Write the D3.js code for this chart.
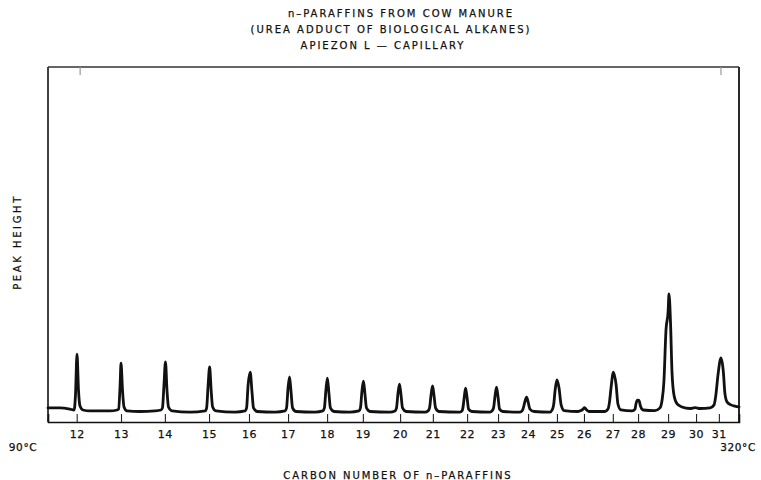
<!DOCTYPE html>
<html>
<head>
<meta charset="utf-8">
<script src="https://cdn.jsdelivr.net/npm/d3@7"></script>
<style>
  html, body { margin: 0; padding: 0; background: #fff; }
  svg { display: block; }
  text { font-family: "DejaVu Sans", sans-serif; fill: #111; stroke: #111; stroke-width: 0.25px; }
</style>
</head>
<body>
<svg id="chart" width="761" height="480"></svg>
<script>
// ---------- data ----------
const titleLines = ["n\u2013PARAFFINS FROM COW MANURE", "(UREA ADDUCT OF BIOLOGICAL ALKANES)", "APIEZON L \u2014 CAPILLARY"];
const yLabel = "PEAK HEIGHT";
const xLabel = "CARBON NUMBER OF  n\u2013PARAFFINS";
const startTempLabel = "90\u00B0C";
const endTempLabel = "320\u00B0C";
const tempRange = [90, 320];

// carbon numbers and the column temperature (°C) of their tick marks
const carbonNumbers = [12, 13, 14, 15, 16, 17, 18, 19, 20, 21, 22, 23, 24, 25, 26, 27, 28, 29, 30, 31];
const carbonTemps   = [99.55, 114.3, 128.9, 143.6, 156.9, 169.9, 182.9, 194.8, 207.2, 218.1, 229.5, 239.8, 249.8, 259.4, 268.4, 278.0, 286.4, 296.4, 305.7, 313.3];

// chromatogram trace: column temperature (°C) and detector response (peak height units)
const traceTemp = [
  90.0, 94.0, 97.3, 98.7,
  99.15, 99.65, 100.15, 100.65, 101.65, 104.0, 110.6, 113.0,
  113.5, 114.0, 114.3, 114.8, 115.3, 116.3, 120.6, 125.6, 127.6,
  128.1, 128.6, 129.1, 129.6, 130.1, 131.3, 137.3, 142.3,
  142.8, 143.3, 143.8, 144.3, 144.8, 145.9, 152.2, 155.6,
  156.1, 156.6, 157.3, 157.9, 158.4, 159.6, 165.6, 168.9,
  169.4, 169.9, 170.4, 170.9, 171.4, 172.5, 178.9, 181.5,
  182.0, 182.5, 183.0, 183.5, 184.0, 185.2, 190.5, 193.5,
  194.0, 194.5, 195.0, 195.5, 196.0, 197.2, 203.8, 205.5,
  206.0, 206.5, 207.0, 207.5, 208.0, 209.2, 215.5, 216.5,
  217.0, 217.5, 218.0, 218.5, 219.0, 220.1, 227.1, 227.8,
  228.1, 228.6, 229.0, 229.5, 230.0, 231.1, 237.1, 237.8,
  238.3, 238.8, 239.3, 239.8, 240.3, 241.4, 247.1, 247.8,
  248.1, 248.8, 249.3, 249.8, 250.4, 251.8, 257.1, 257.8,
  258.3, 258.8, 259.4, 260.1, 260.8, 261.8, 266.4, 267.4,
  268.1, 268.6, 269.1, 270.1, 275.4, 276.4,
  276.9, 277.4, 278.2, 279.1, 279.7, 280.7, 284.4, 285.4,
  285.7, 286.2, 286.7, 287.2, 288.1, 292.0, 293.7,
  294.4, 295.0, 295.7, 296.4, 296.7, 297.2, 297.7, 298.4, 299.4, 301.0, 303.7, 305.4, 307.0, 310.4, 311.7,
  312.3, 313.0, 314.0, 314.8, 315.3, 316.0, 317.3, 318.7, 320.0
];
const traceResponse = [
  1.7, 1.7, 1.3, 1.0,
  6.0, 19.6, 7.6, 2.3, 1.0, 0.7, 0.7, 1.0,
  1.3, 9.3, 16.6, 7.6, 2.0, 0.7, 0.5, 0.7, 1.0,
  1.7, 9.3, 17.0, 7.6, 2.0, 0.7, 0.3, 0.7,
  1.7, 9.3, 15.3, 7.6, 2.0, 0.7, 0.3, 0.7,
  1.7, 9.3, 13.6, 7.0, 1.7, 0.5, 0.3, 0.7,
  1.7, 8.3, 12.0, 7.0, 1.7, 0.5, 0.3, 0.7,
  1.7, 7.6, 11.6, 6.6, 1.7, 0.5, 0.3, 0.7,
  1.7, 7.3, 10.6, 6.3, 1.7, 0.5, 0.3, 0.7,
  1.7, 6.6, 9.6, 6.0, 1.7, 0.5, 0.3, 0.7,
  1.7, 6.0, 9.0, 5.7, 1.7, 0.5, 0.3, 0.7,
  1.7, 5.7, 8.3, 5.0, 1.3, 0.5, 0.3, 0.7,
  1.7, 5.7, 8.6, 5.3, 1.3, 0.5, 0.3, 0.7,
  1.3, 4.0, 5.3, 3.7, 1.3, 0.5, 0.3, 1.0,
  2.7, 7.6, 11.0, 8.3, 2.7, 0.8, 0.5, 0.8,
  1.3, 1.8, 1.2, 0.5, 0.5, 1.3,
  3.7, 8.3, 13.6, 9.3, 3.0, 1.0, 0.7, 1.3,
  3.0, 4.3, 4.2, 2.3, 1.0, 0.8, 1.7,
  4.3, 10.3, 27.6, 33.6, 39.6, 30.2, 13.6, 5.7, 3.0, 2.0, 1.5, 1.8, 1.5, 1.7, 2.7,
  6.0, 12.6, 18.3, 13.6, 6.6, 3.7, 2.7, 2.3, 2.0
];
const responseMax = 115;

// ---------- layout ----------
const svg = d3.select("#chart");
const plot = { left: 48, right: 739, top: 67, bottom: 422 };
const baselineY = 413;

const x = d3.scaleLinear().domain(tempRange).range([plot.left, plot.right]);
const y = d3.scaleLinear().domain([0, responseMax]).range([baselineY, plot.top]);

// titles
svg.selectAll("text.title").data(titleLines).enter().append("text")
  .attr("class", "title")
  .attr("x", (d, i) => [401, 391, 383][i])
  .attr("y", (d, i) => 17 + i * 16)
  .attr("text-anchor", "middle")
  .style("font-size", "10px")
  .style("letter-spacing", "2px")
  .text(d => d);

// frame
const frame = svg.append("g").attr("fill", "none");
frame.append("line").attr("x1", plot.left).attr("x2", plot.left).attr("y1", plot.top).attr("y2", plot.bottom)
  .attr("stroke", "#111").attr("stroke-width", 1.6);
frame.append("line").attr("x1", plot.right).attr("x2", plot.right).attr("y1", plot.top).attr("y2", plot.bottom)
  .attr("stroke", "#111").attr("stroke-width", 1.8);
frame.append("line").attr("x1", plot.left).attr("x2", plot.right).attr("y1", plot.top).attr("y2", plot.top)
  .attr("stroke", "#333").attr("stroke-width", 1.3);
// faint chart-paper ticks at the top edge
[x(100.7), x(314)].forEach(px => {
  frame.append("line").attr("x1", px).attr("x2", px).attr("y1", plot.top).attr("y2", plot.top + 8)
    .attr("stroke", "#999").attr("stroke-width", 1.2);
});

// bottom axis with carbon-number ticks
const xAxis = d3.axisBottom(x)
  .tickValues(carbonTemps)
  .tickSize(-8)
  .tickPadding(5)
  .tickFormat((d, i) => carbonNumbers[i]);
const gx = svg.append("g").attr("transform", `translate(0,${plot.bottom})`).call(xAxis);
gx.select(".domain").attr("stroke", "#111").attr("stroke-width", 1.6);
gx.selectAll(".tick line").attr("stroke", "#222").attr("stroke-width", 1.1);
gx.selectAll(".tick text")
  .attr("y", 8)
  .style("font-size", "11px")
  .style("font-family", "\"DejaVu Sans\", sans-serif")
  .style("letter-spacing", "0.5px")
  .attr("fill", "#111");

// temperature endpoints
svg.append("text").attr("x", 23).attr("y", 451).attr("text-anchor", "middle")
  .style("font-size", "10.5px").style("letter-spacing", "0.6px").text(startTempLabel);
svg.append("text").attr("x", 738).attr("y", 451).attr("text-anchor", "middle")
  .style("font-size", "10.5px").style("letter-spacing", "0.6px").text(endTempLabel);

// axis labels
svg.append("text").attr("x", 398).attr("y", 479).attr("text-anchor", "middle")
  .style("font-size", "10px").style("letter-spacing", "1.95px").text(xLabel);
svg.append("text").attr("transform", "translate(21,242) rotate(-90)").attr("text-anchor", "middle")
  .style("font-size", "10px").style("letter-spacing", "2.6px").text(yLabel);

// chromatogram trace
const pts = traceTemp.map((t, i) => [t, traceResponse[i]]);
const line = d3.line().x(d => x(d[0])).y(d => y(d[1])).curve(d3.curveMonotoneX);
svg.append("path").datum(pts)
  .attr("d", line)
  .attr("fill", "none")
  .attr("stroke", "#111")
  .attr("stroke-width", 2.8)
  .attr("stroke-linejoin", "round")
  .attr("stroke-linecap", "round");
</script>
</body>
</html>
